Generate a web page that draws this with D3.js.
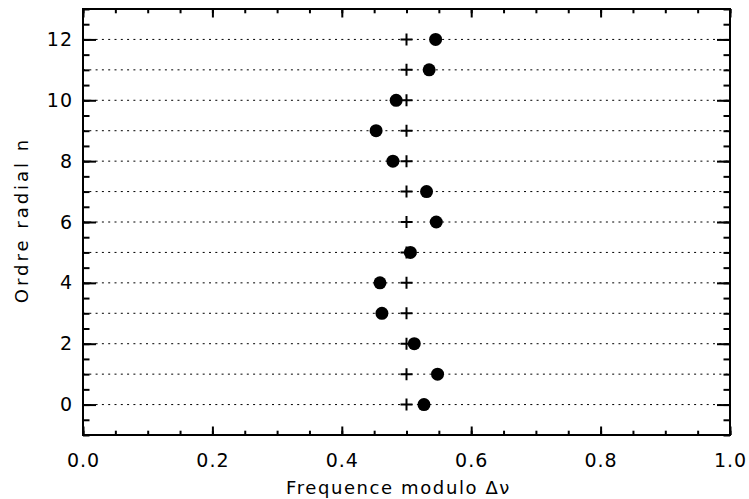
<!doctype html>
<html>
<head>
	<meta charset="utf-8">
	<title>Ordre radial vs frequence modulo</title>
	<style>
		body { margin: 0; background: #fff; }
		text { font-family: "DejaVu Sans", sans-serif; fill: #000; }
	</style>
</head>
<body>
	<svg width="749" height="499"></svg>
	<script src="https://d3js.org/d3.v7.min.js"></script>
	<script>
// radial order n and observed frequency modulo large separation
const orders = [0, 1, 2, 3, 4, 5, 6, 7, 8, 9, 10, 11, 12];
const observed = [0.527, 0.548, 0.512, 0.462, 0.459, 0.506, 0.546, 0.531, 0.479, 0.453, 0.484, 0.535, 0.545];
const reference = [0.5, 0.5, 0.5, 0.5, 0.5, 0.5, 0.5, 0.5, 0.5, 0.5, 0.5, 0.5, 0.5];
const xTicks = [0, 0.2, 0.4, 0.6, 0.8, 1.0];
const yTicks = [0, 2, 4, 6, 8, 10, 12];

const plotLeft = 83, plotRight = 730, plotTop = 9, plotBottom = 435;

const svg = d3.select("svg");

var x = d3.scaleLinear().domain([0, 1]).range([plotLeft, plotRight]);
var y = d3.scaleLinear().domain([-1, 13]).range([plotBottom, plotTop]);

// dotted guide lines at each order
svg.append("g")
    .selectAll("line")
    .data(orders)
    .enter()
    .append("line")
    .attr("x1", x(0))
    .attr("x2", x(1))
    .attr("y1", d => y(d))
    .attr("y2", d => y(d))
    .attr("stroke", "#000")
    .attr("stroke-width", 1)
    .attr("stroke-dasharray", "2,4.3");

// minor ticks
var xMinor = d3.range(0, 1.0001, 0.05);
var yMinor = d3.range(-1, 13.0001, 0.5);

function tickStyle(g) {
    g.select(".domain").remove();
    g.selectAll(".tick line").attr("stroke", "#000").attr("stroke-width", 2);
    g.selectAll(".tick text").attr("font-size", "19px").attr("letter-spacing", "1px");
}

svg.append("g").attr("transform", "translate(0," + plotBottom + ")")
    .call(d3.axisBottom(x).tickValues(xMinor).tickSize(-4.3).tickFormat(""))
    .call(tickStyle);
svg.append("g").attr("transform", "translate(0," + plotTop + ")")
    .call(d3.axisTop(x).tickValues(xMinor).tickSize(-4.3).tickFormat(""))
    .call(tickStyle);
svg.append("g").attr("transform", "translate(" + plotLeft + ",0)")
    .call(d3.axisLeft(y).tickValues(yMinor).tickSize(-6.5).tickFormat(""))
    .call(tickStyle);
svg.append("g").attr("transform", "translate(" + plotRight + ",0)")
    .call(d3.axisRight(y).tickValues(yMinor).tickSize(-6.5).tickFormat(""))
    .call(tickStyle);

// major ticks with labels
svg.append("g").attr("transform", "translate(0," + plotBottom + ")")
    .call(d3.axisBottom(x).tickValues(xTicks).tickSize(-8.5).tickPadding(19).tickFormat(d3.format(".1f")))
    .call(tickStyle);
svg.append("g").attr("transform", "translate(0," + plotTop + ")")
    .call(d3.axisTop(x).tickValues(xTicks).tickSize(-8.5).tickFormat(""))
    .call(tickStyle);
svg.append("g").attr("transform", "translate(" + plotLeft + ",0)")
    .call(d3.axisLeft(y).tickValues(yTicks).tickSize(-13).tickPadding(10).tickFormat(d3.format("d")))
    .call(tickStyle);
svg.append("g").attr("transform", "translate(" + plotRight + ",0)")
    .call(d3.axisRight(y).tickValues(yTicks).tickSize(-13).tickFormat(""))
    .call(tickStyle);

// frame
svg.append("rect")
    .attr("x", plotLeft).attr("y", plotTop)
    .attr("width", plotRight - plotLeft).attr("height", plotBottom - plotTop)
    .attr("fill", "none").attr("stroke", "#000").attr("stroke-width", 2);

// reference crosses
svg.append("g")
    .selectAll("path")
    .data(orders)
    .enter()
    .append("path")
    .attr("transform", (d, i) => "translate(" + x(reference[i]) + "," + y(d) + ")")
    .attr("d", "M-6,0H6M0,-6V6")
    .attr("stroke", "#000")
    .attr("stroke-width", 2)
    .attr("fill", "none");

// observed points
svg.append("g")
    .selectAll("circle")
    .data(orders)
    .enter()
    .append("circle")
    .attr("cx", (d, i) => x(observed[i]))
    .attr("cy", d => y(d))
    .attr("r", 6.5)
    .attr("fill", "#000");

// axis titles
svg.append("text")
    .attr("x", (plotLeft + plotRight) / 2 - 8)
    .attr("y", 494)
    .attr("font-size", "18px")
    .attr("letter-spacing", "1.6px")
    .attr("text-anchor", "middle")
    .text("Frequence modulo \u0394\u03bd");

svg.append("text")
    .attr("transform", "translate(28,220) rotate(-90)")
    .attr("font-size", "18px")
    .attr("letter-spacing", "3px")
    .attr("text-anchor", "middle")
    .text("Ordre radial n");
	</script>
</body>
</html>
